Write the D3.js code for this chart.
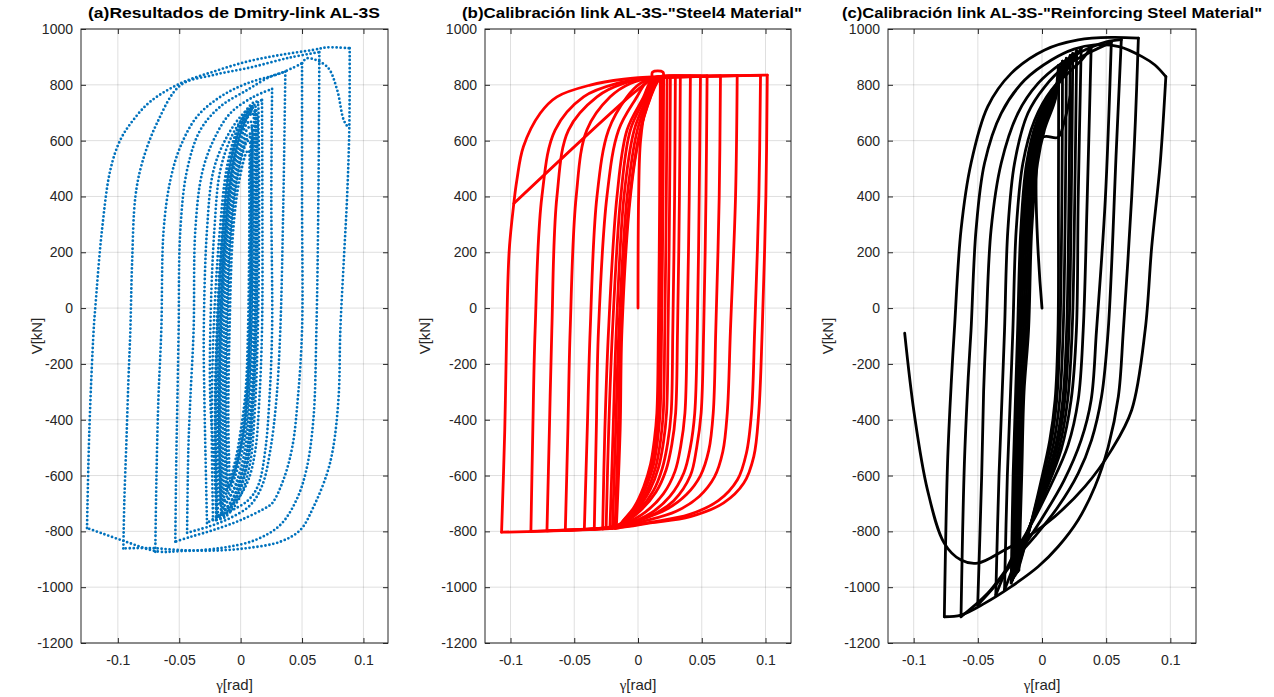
<!DOCTYPE html>
<html>
<head>
<meta charset="utf-8">
<script src="https://cdn.jsdelivr.net/npm/d3@7"></script>
<style>
  body { margin: 0; background: #fff; }
  svg { display: block; font-family: "Liberation Sans", Arial, Helvetica, sans-serif; }
</style>
</head>
<body>
<svg width="1274" height="697"></svg>
<script>
// tick values and titles
var xTicks = [-0.1, -0.05, 0, 0.05, 0.1];
var yTicks = [-1200, -1000, -800, -600, -400, -200, 0, 200, 400, 600, 800, 1000];
var titles = [
  "(a)Resultados de Dmitry-link AL-3S",
  "(b)Calibración link AL-3S-\"Steel4 Material\"",
  "(c)Calibración link AL-3S-\"Reinforcing Steel Material\""
];

// (a) test data, outer loops  [gamma rad, V kN]
var dmitryOuter = [
  [[-0.1251,-788],[-0.1232,-437],[-0.1197,-79],[-0.1183,5],[-0.1129,280],[-0.1061,495],[-0.098,602],[-0.0874,674],[-0.0735,740],[-0.0491,805],[-0.0222,847],[0.0052,883],[0.0323,907],[0.0592,925],[0.0704,934],[0.0888,931]],
  [[0.0888,931],[0.0885,645],[0.0867,399],[0.0839,162],[0.0812,-78],[0.0798,-317],[0.0755,-497],[0.0704,-592],[0.0594,-712],[0.0486,-795],[0.0324,-837],[0.0052,-860],[-0.0222,-869],[-0.0491,-867],[-0.0735,-860],[-0.0955,-861]],
  [[-0.0955,-861],[-0.0947,-689],[-0.093,-475],[-0.0914,-260],[-0.0898,-79],[-0.0884,161],[-0.0857,399],[-0.0803,519],[-0.0682,662],[-0.0491,798],[-0.0222,835],[0.0079,862],[0.0405,898],[0.0641,917]],
  [[0.0641,917],[0.0633,387],[0.0617,-78],[0.0592,-401],[0.0535,-580],[0.0454,-688],[0.0323,-777],[0.012,-831],[-0.0166,-860],[-0.0491,-871],[-0.0678,-872],[-0.0955,-834],[-0.1251,-788]],
  [[-0.0695,-873],[-0.0686,-616],[-0.067,-330],[-0.0646,-79],[-0.0627,280],[-0.0572,459],[-0.0491,578],[-0.0355,686],[-0.0165,757],[0.0052,805],[0.0323,841],[0.05,877]],
  [[0.05,877],[0.05,387],[0.05,-79],[0.0467,-317],[0.0421,-497],[0.0348,-616],[0.0258,-699],[0.0215,-713],[-0.0002,-760],[-0.022,-795],[-0.041,-820],[-0.0532,-837]],
  [[-0.0532,-837],[-0.0524,-544],[-0.0515,-329],[-0.0505,-79],[-0.0491,280],[-0.0436,495],[-0.0328,638],[-0.0165,722],[0.0052,781],[0.0242,829],[0.0364,847]],
  [[0.0364,847],[0.0348,387],[0.0323,-79],[0.0291,-329],[0.0242,-508],[0.0177,-634],[0.0079,-706],[-0.0084,-752],[-0.0247,-781],[-0.0436,-805]],
  [[-0.0436,-805],[-0.0426,-508],[-0.041,-329],[-0.0383,-79],[-0.0369,280],[-0.0314,484],[-0.022,602],[-0.0084,698],[0.0106,757],[0.0256,785]],
  [[0.0256,785],[0.025,387],[0.0256,-79],[0.0234,-329],[0.0201,-508],[0.0144,-634],[0.0063,-688],[-0.0068,-724],[-0.0206,-752],[-0.0274,-770]],
  [[-0.0274,-770],[-0.0287,-508],[-0.0295,-329],[-0.03,-79],[-0.0274,280],[-0.022,495],[-0.0111,614],[0.0024,698],[0.0174,746]],
  [[0.0174,746],[0.0177,387],[0.0174,-79],[0.0152,-329],[0.012,-508],[0.0063,-616],[-0.0019,-681],[-0.0125,-724],[-0.0192,-747]],
  [[-0.0192,-747],[-0.0222,-508],[-0.0247,-329],[-0.0247,-79],[-0.0214,280],[-0.0165,495],[-0.0068,620],[0.0038,692],[0.0106,721]],
  [[0.05,877],[0.054,895],[0.0704,865],[0.0785,783],[0.0839,674],[0.0879,645]]
];

// (a) test data, small cycles in the middle
var dmitryCore = [
  [[-0.016,-735],[-0.0175,-400],[-0.0165,-79],[-0.013,250],[-0.008,480],[-0.001,620],[0.006,690],[0.0095,700],[0.011,600],[0.0115,350],[0.011,-79],[0.0085,-350],[0.004,-540],[-0.003,-650],[-0.011,-715],[-0.016,-735]],
  [[-0.0145,-715],[-0.016,-400],[-0.015,-79],[-0.0115,250],[-0.0065,470],[0,600],[0.005,660],[0.008,670],[0.0095,560],[0.0105,300],[0.0095,-79],[0.007,-350],[0.003,-520],[-0.004,-630],[-0.011,-695],[-0.0145,-715]],
  [[-0.0135,-690],[-0.0145,-400],[-0.0135,-79],[-0.0105,250],[-0.0055,460],[0.001,590],[0.006,645],[0.0085,650],[0.0095,520],[0.0095,250],[0.0085,-79],[0.006,-340],[0.002,-500],[-0.005,-610],[-0.0105,-670],[-0.0135,-690]],
  [[-0.012,-665],[-0.013,-400],[-0.012,-79],[-0.009,250],[-0.0045,450],[0.001,570],[0.0055,620],[0.0075,625],[0.0085,500],[0.0085,250],[0.0075,-79],[0.005,-330],[0.001,-480],[-0.005,-590],[-0.0095,-645],[-0.012,-665]],
  [[-0.0105,-640],[-0.0115,-400],[-0.0105,-79],[-0.008,250],[-0.0035,440],[0.0015,550],[0.005,595],[0.007,600],[0.008,480],[0.008,250],[0.007,-79],[0.0045,-320],[0.0005,-460],[-0.0045,-570],[-0.0085,-620],[-0.0105,-640]],
  [[-0.02,-760],[-0.021,-400],[-0.0195,-79],[-0.0155,250],[-0.01,500],[-0.002,640],[0.006,710],[0.0115,725],[0.013,620],[0.0135,350],[0.0125,-79],[0.01,-360],[0.006,-550],[-0.002,-670],[-0.012,-740],[-0.02,-760]],
  [[-0.0185,-745],[-0.0195,-400],[-0.018,-79],[-0.0145,250],[-0.009,490],[-0.0015,630],[0.006,700],[0.0105,712],[0.0125,610],[0.0125,350],[0.012,-79],[0.0095,-355],[0.0055,-545],[-0.0025,-660],[-0.0115,-730],[-0.0185,-745]],
  [[-0.009,-610],[-0.01,-400],[-0.009,-79],[-0.0065,250],[-0.0025,420],[0.002,520],[0.005,560],[0.0065,565],[0.007,450],[0.007,250],[0.006,-79],[0.004,-300],[0,-440],[-0.004,-540],[-0.0075,-595],[-0.009,-610]],
  [[-0.0225,-760],[-0.0235,-400],[-0.022,-79],[-0.0175,250],[-0.011,510],[-0.002,650],[0.0065,720],[0.013,740],[0.0145,640],[0.015,360],[0.014,-79],[0.0115,-370],[0.0075,-560],[-0.001,-680],[-0.013,-750],[-0.0225,-760]],
  [[-0.017,-700],[-0.0185,-400],[-0.0175,-79],[-0.0125,300],[-0.006,520],[0.002,650],[0.009,705],[0.0125,700],[0.0135,560],[0.0135,300],[0.0125,-79],[0.0095,-330],[0.005,-520],[-0.003,-630],[-0.012,-690],[-0.017,-700]],
  [[-0.0155,-725],[-0.017,-400],[-0.016,-79],[-0.012,260],[-0.0065,490],[0.0005,630],[0.007,690],[0.0105,695],[0.012,590],[0.0125,330],[0.0115,-79],[0.009,-345],[0.0045,-530],[-0.0025,-645],[-0.0105,-710],[-0.0155,-725]],
  [[-0.0115,-650],[-0.0125,-400],[-0.0115,-79],[-0.0085,250],[-0.004,445],[0.0015,560],[0.006,610],[0.0085,612],[0.009,490],[0.009,250],[0.008,-79],[0.0055,-325],[0.0015,-470],[-0.0045,-580],[-0.009,-635],[-0.0115,-650]],
  [[-0.0195,-750],[-0.0205,-400],[-0.019,-79],[-0.015,250],[-0.0095,495],[-0.0015,635],[0.0065,705],[0.011,718],[0.0128,615],[0.013,350],[0.0122,-79],[0.0098,-358],[0.0058,-548],[-0.0022,-665],[-0.0118,-735],[-0.0195,-750]]
];

// (b) Steel4 model: loading branches
var steel4Rising = [
  [[-0.107,-803],[-0.1045,-437],[-0.103,-80],[-0.101,208],[-0.0974,375],[-0.095,459],[-0.0899,578],[-0.0767,698],[-0.0636,757],[-0.0375,799],[-0.0113,820],[0.0149,829],[0.06,832],[0.1014,835]],
  [[-0.084,-800],[-0.0825,-437],[-0.0807,-80],[-0.0754,399],[-0.065,638],[-0.0427,757],[-0.0165,805],[0.0097,823],[0.05,830],[0.0961,834]],
  [[-0.0714,-798],[-0.0695,-437],[-0.0676,-80],[-0.0636,399],[-0.0545,638],[-0.0322,757],[-0.0113,805],[0.0097,823],[0.04,829],[0.0778,833]],
  [[-0.057,-796],[-0.055,-437],[-0.0532,-80],[-0.0485,399],[-0.0401,638],[-0.0218,757],[-0.006,805],[0.0097,823],[0.0647,832]],
  [[-0.0421,-794],[-0.0398,-437],[-0.0375,-80],[-0.0322,399],[-0.0231,638],[-0.0086,757],[0.0018,805],[0.012,825],[0.0542,832]],
  [[-0.0343,-793],[-0.0327,-437],[-0.031,-80],[-0.0244,399],[-0.0152,638],[-0.0008,757],[0.0057,805],[0.013,826],[0.049,831]],
  [[-0.0277,-791],[-0.026,-437],[-0.0231,-80],[-0.0165,399],[-0.0086,638],[0.0044,757],[0.009,805],[0.014,826],[0.0411,831]],
  [[-0.025,-790],[-0.023,-437],[-0.02,-80],[-0.0135,399],[-0.006,638],[0.006,757],[0.0105,805],[0.015,826],[0.0332,830]],
  [[-0.022,-790],[-0.0195,-437],[-0.017,-80],[-0.011,399],[-0.003,638],[0.0075,757],[0.012,805],[0.016,826],[0.0293,830]],
  [[-0.02,-789],[-0.0175,-437],[-0.015,-80],[-0.0085,399],[-0.0005,638],[0.0085,757],[0.013,805],[0.017,826],[0.0254,830]],
  [[-0.018,-789],[-0.0155,-437],[-0.0135,-80],[-0.0065,399],[0.0018,638],[0.0097,757],[0.014,805],[0.018,826],[0.0228,829]],
  [[-0.017,-788],[-0.014,-437],[-0.0126,-80],[-0.006,399],[0.002,638],[0.01,757],[0.0145,805],[0.018,826],[0.0201,829]]
];

// (b) Steel4 model: unloading branches
var steel4Falling = [
  [[0.1014,835],[0.1003,400],[0.0974,-80],[0.0947,-376],[0.0908,-532],[0.083,-627],[0.0672,-698],[0.0411,-747],[0.0097,-770],[-0.0165,-788],[-0.06,-797],[-0.107,-803]],
  [[0.0961,834],[0.0948,400],[0.0915,-80],[0.089,-376],[0.085,-520],[0.078,-615],[0.063,-690],[0.04,-740],[0.01,-767],[-0.0165,-786],[-0.05,-794],[-0.084,-800]],
  [[0.0778,833],[0.0765,400],[0.0725,-80],[0.07,-376],[0.0665,-515],[0.06,-605],[0.048,-675],[0.03,-728],[0.006,-762],[-0.017,-785],[-0.04,-792],[-0.0714,-798]],
  [[0.0647,832],[0.0637,400],[0.061,-80],[0.059,-376],[0.0555,-510],[0.049,-600],[0.038,-668],[0.022,-722],[0.002,-758],[-0.017,-784],[-0.057,-796]],
  [[0.0542,832],[0.0533,400],[0.0515,-80],[0.0495,-376],[0.046,-500],[0.0411,-600],[0.028,-690],[0.0097,-745],[-0.0113,-777],[-0.0421,-794]],
  [[0.049,831],[0.048,400],[0.0465,-80],[0.0445,-376],[0.041,-500],[0.036,-590],[0.025,-675],[0.01,-735],[-0.01,-775],[-0.0343,-793]],
  [[0.0411,831],[0.0402,400],[0.0385,-80],[0.0368,-376],[0.0335,-495],[0.029,-585],[0.02,-665],[0.006,-730],[-0.011,-773],[-0.0277,-791]],
  [[0.0332,830],[0.0325,400],[0.031,-80],[0.0295,-376],[0.0265,-490],[0.022,-580],[0.014,-660],[0.002,-725],[-0.012,-772],[-0.025,-790]],
  [[0.0293,830],[0.0287,400],[0.0273,-80],[0.026,-376],[0.0232,-485],[0.019,-575],[0.012,-655],[0.001,-722],[-0.012,-770],[-0.022,-790]],
  [[0.0254,830],[0.0248,400],[0.0236,-80],[0.0224,-376],[0.02,-480],[0.0162,-570],[0.0095,-650],[-0.0005,-720],[-0.012,-768],[-0.02,-789]],
  [[0.0228,829],[0.0222,400],[0.021,-80],[0.0198,-376],[0.0176,-478],[0.014,-568],[0.0078,-648],[-0.001,-718],[-0.012,-767],[-0.018,-789]],
  [[0.0201,829],[0.0196,400],[0.0185,-80],[0.0173,-376],[0.0153,-476],[0.012,-565],[0.006,-645],[-0.002,-716],[-0.012,-766],[-0.017,-788]],
  [[0.0188,829],[0.0183,400],[0.0172,-80],[0.016,-376],[0.014,-475],[0.011,-562],[0.0055,-643],[-0.0025,-715],[-0.012,-765],[-0.016,-788]],
  [[0.0175,828],[0.017,400],[0.016,-80],[0.0148,-376],[0.0128,-473],[0.0098,-560],[0.0045,-640],[-0.003,-713],[-0.012,-764],[-0.015,-787]]
];

// (b) first loading, small kink at the top, elastic reload line
var steel4Other = [
  [[0,0],[0.0005,400],[0.002,600],[0.006,720],[0.012,790],[0.016,822],[0.0175,828]],
  [[0.011,830],[0.0115,846],[0.0195,846],[0.02,830]],
  [[-0.0974,375],[-0.005,765],[0.012,826]]
];

// (c) Reinforcing steel model: loading branches
var reinfRising = [
  [[-0.0761,-1106],[-0.0736,-556],[-0.0705,-250],[-0.0683,-80],[-0.0631,280],[-0.0553,519],[-0.0423,722],[-0.024,841],[0.0021,925],[0.0282,961],[0.0542,970],[0.0751,967]],
  [[-0.0631,-1106],[-0.0605,-560],[-0.0575,-250],[-0.0553,-80],[-0.0514,280],[-0.0448,519],[-0.0318,698],[-0.0135,817],[0.0073,889],[0.025,928],[0.041,943],[0.06,937],[0.078,901],[0.088,871],[0.0965,829]],
  [[-0.0501,-1064],[-0.047,-600],[-0.0455,-300],[-0.0436,-80],[-0.0397,280],[-0.0318,519],[-0.0188,698],[-0.0031,805],[0.0151,877],[0.0334,925],[0.0501,954],[0.0618,962]],
  [[-0.036,-1028],[-0.0335,-600],[-0.031,-300],[-0.0292,-80],[-0.0266,280],[-0.0214,519],[-0.011,698],[0.0021,793],[0.0178,865],[0.0386,919],[0.054,952]],
  [[-0.0292,-1010],[-0.027,-600],[-0.0245,-300],[-0.0227,-80],[-0.0201,280],[-0.0149,519],[-0.0057,674],[0.0073,781],[0.0229,853],[0.032,895],[0.0383,935]],
  [[-0.024,-985],[-0.0225,-600],[-0.0205,-300],[-0.019,-80],[-0.0165,280],[-0.012,519],[-0.004,670],[0.008,780],[0.02,860],[0.0305,930]],
  [[-0.023,-975],[-0.021,-600],[-0.0192,-300],[-0.0175,-80],[-0.015,280],[-0.0105,519],[-0.003,665],[0.0085,775],[0.019,850],[0.027,922]],
  [[-0.022,-965],[-0.0198,-600],[-0.018,-300],[-0.016,-80],[-0.0135,280],[-0.009,519],[-0.002,660],[0.009,770],[0.0175,845],[0.024,912]],
  [[-0.021,-958],[-0.0188,-600],[-0.017,-300],[-0.0145,-80],[-0.012,280],[-0.0075,519],[-0.001,655],[0.0095,765],[0.016,840],[0.022,905]],
  [[-0.02,-950],[-0.0178,-600],[-0.016,-300],[-0.013,-80],[-0.0105,280],[-0.006,519],[0,650],[0.01,760],[0.015,835],[0.019,895]],
  [[-0.019,-945],[-0.0168,-600],[-0.015,-300],[-0.0115,-80],[-0.009,280],[-0.0045,519],[0.001,645],[0.0105,755],[0.0135,830],[0.016,885]],
  [[-0.018,-940],[-0.0158,-600],[-0.014,-300],[-0.0105,-80],[-0.008,280],[-0.0035,519],[0.002,640],[0.0105,750],[0.012,825],[0.013,870]]
];

// (c) Reinforcing steel model: unloading branches
var reinfFalling = [
  [[0.0965,829],[0.0921,519],[0.0855,220],[0.0804,-78],[0.0699,-365],[0.0542,-508],[0.0334,-640],[0.0099,-747],[-0.011,-819],[-0.0292,-867],[-0.0501,-914],[-0.0631,-903],[-0.0761,-843],[-0.0892,-652],[-0.0996,-377],[-0.107,-90]],
  [[0.0751,967],[0.0728,674],[0.0699,399],[0.0634,-78],[0.0595,-317],[0.0516,-497],[0.0412,-640],[0.0282,-759],[0.0125,-855],[-0.0031,-927],[-0.024,-998],[-0.0448,-1058],[-0.0631,-1100],[-0.0761,-1106]],
  [[0.0618,962],[0.0579,566],[0.0516,-78],[0.0464,-317],[0.0386,-473],[0.0282,-592],[0.0125,-712],[-0.0057,-819],[-0.024,-914],[-0.0423,-1022],[-0.0631,-1106]],
  [[0.054,952],[0.0493,387],[0.0425,-78],[0.0383,-329],[0.0305,-473],[0.0172,-617],[-0.0008,-759],[-0.0188,-884],[-0.036,-992],[-0.0501,-1064]],
  [[0.0383,935],[0.0352,387],[0.0321,-80],[0.0282,-329],[0.0203,-491],[0.007,-634],[-0.0086,-777],[-0.0243,-903],[-0.036,-1028]],
  [[0.0305,930],[0.0282,387],[0.0268,-80],[0.0227,-329],[0.0149,-508],[0.0031,-652],[-0.0125,-813],[-0.0292,-1010]],
  [[0.027,922],[0.0255,387],[0.0235,-80],[0.02,-329],[0.0135,-500],[0.003,-650],[-0.011,-800],[-0.024,-985]],
  [[0.024,912],[0.0228,387],[0.021,-80],[0.0178,-329],[0.012,-495],[0.002,-645],[-0.0105,-795],[-0.023,-975]],
  [[0.022,905],[0.021,387],[0.0192,-80],[0.0162,-329],[0.0108,-490],[0.0015,-640],[-0.01,-790],[-0.022,-965]],
  [[0.019,895],[0.0182,387],[0.0165,-80],[0.0138,-329],[0.009,-485],[0.0005,-635],[-0.0095,-785],[-0.021,-958]],
  [[0.016,885],[0.0155,387],[0.014,-80],[0.0115,-329],[0.0072,-480],[-0.0005,-630],[-0.009,-780],[-0.02,-950]],
  [[0.013,870],[0.0128,387],[0.0125,-80],[0.0102,-329],[0.006,-475],[-0.001,-625],[-0.0088,-775],[-0.019,-945]]
];

// (c) first loading
var reinfOther = [
  [[0,0],[0,610],[0.0125,612],[0.017,662],[0.022,760]]
];

var svg = d3.select("svg"),
    width = +svg.attr("width"),
    height = +svg.attr("height");

svg.append("rect").attr("width", width).attr("height", height).attr("fill", "#fff");

var axTop = 29, axBottom = 643;
var ink = "#262626";

var panels = [
  { id: "a", left: 81, right: 388, xDomain: [-0.13, 0.12], titleX: 234, titleW: 292, ylabX: 37 },
  { id: "b", left: 485, right: 791, xDomain: [-0.12, 0.12], titleX: 632, titleW: 340, ylabX: 425 },
  { id: "c", left: 888, right: 1196, xDomain: [-0.12, 0.12], titleX: 1052, titleW: 420, ylabX: 828 }
];

var fmt = function (d) { return String(d); };

function drawPanel(p, i, layers) {
  var x = d3.scaleLinear().domain(p.xDomain).range([p.left, p.right]);
  var y = d3.scaleLinear().domain([-1200, 1000]).range([axBottom, axTop]);
  var g = svg.append("g").attr("class", "panel-" + p.id);

  // grid
  g.append("g").selectAll("line").data(xTicks).join("line")
    .attr("x1", d => x(d)).attr("x2", d => x(d))
    .attr("y1", axTop).attr("y2", axBottom)
    .attr("stroke", ink).attr("stroke-opacity", 0.15);
  g.append("g").selectAll("line").data(yTicks).join("line")
    .attr("x1", p.left).attr("x2", p.right)
    .attr("y1", d => y(d)).attr("y2", d => y(d))
    .attr("stroke", ink).attr("stroke-opacity", 0.15);

  // data
  g.append("clipPath").attr("id", "clip-" + p.id)
    .append("rect").attr("x", p.left).attr("y", axTop)
    .attr("width", p.right - p.left).attr("height", axBottom - axTop);

  var line = d3.line()
    .x(d => x(d[0]))
    .y(d => y(d[1]))
    .curve(d3.curveCatmullRom.alpha(0.5));

  var plot = g.append("g").attr("clip-path", "url(#clip-" + p.id + ")");
  layers.forEach(function (L) {
    var paths = plot.append("g").selectAll("path").data(L.data).join("path")
      .attr("d", line)
      .attr("fill", "none")
      .attr("stroke", L.color)
      .attr("stroke-width", L.width)
      .attr("stroke-linecap", "round")
      .attr("stroke-linejoin", "round");
    if (L.dots) paths.attr("stroke-dasharray", "0 4");
  });

  // axes, ticks pointing inward on all four sides
  var xb = g.append("g").attr("transform", "translate(0," + axBottom + ")")
    .call(d3.axisBottom(x).tickValues(xTicks).tickSize(-5).tickSizeOuter(0).tickFormat(fmt));
  xb.selectAll("text").attr("y", 22).attr("dy", null);
  g.append("g").attr("transform", "translate(0," + axTop + ")")
    .call(d3.axisTop(x).tickValues(xTicks).tickSize(-5).tickSizeOuter(0).tickFormat(""));
  var yl = g.append("g").attr("transform", "translate(" + p.left + ",0)")
    .call(d3.axisLeft(y).tickValues(yTicks).tickSize(-5).tickSizeOuter(0).tickFormat(fmt));
  yl.selectAll("text").attr("x", -8);
  g.append("g").attr("transform", "translate(" + p.right + ",0)")
    .call(d3.axisRight(y).tickValues(yTicks).tickSize(-5).tickSizeOuter(0).tickFormat(""));

  g.selectAll(".domain").remove();
  g.selectAll(".tick line").attr("stroke", ink);
  g.selectAll(".tick text").attr("fill", ink)
    .attr("font-size", 14).attr("font-family", "Liberation Sans, Arial, sans-serif");

  g.append("rect")
    .attr("x", p.left).attr("y", axTop)
    .attr("width", p.right - p.left).attr("height", axBottom - axTop)
    .attr("fill", "none").attr("stroke", ink).attr("stroke-width", 1);

  // labels
  g.append("text")
    .attr("x", p.titleX).attr("y", 18)
    .attr("text-anchor", "middle")
    .attr("font-weight", "bold").attr("font-size", 15.5)
    .attr("textLength", p.titleW).attr("lengthAdjust", "spacingAndGlyphs")
    .attr("fill", "#000")
    .text(titles[i]);

  var xlab = g.append("text")
    .attr("x", (p.left + p.right) / 2).attr("y", 690)
    .attr("text-anchor", "middle").attr("font-size", 15).attr("fill", ink);
  xlab.append("tspan").attr("font-family", "Liberation Serif, Times New Roman, serif").text("γ");
  xlab.append("tspan").text("[rad]");

  g.append("text")
    .attr("transform", "translate(" + (p.ylabX + 5) + "," + ((axTop + axBottom) / 2) + ") rotate(-90)")
    .attr("text-anchor", "middle").attr("font-size", 15).attr("fill", ink)
    .text("V[kN]");
}

drawPanel(panels[0], 0, [
  { data: dmitryOuter, color: "#0072BD", width: 2.8, dots: true },
  { data: dmitryCore, color: "#0072BD", width: 2.8, dots: true }
]);
drawPanel(panels[1], 1, [
  { data: steel4Rising, color: "#FF0000", width: 2.8 },
  { data: steel4Falling, color: "#FF0000", width: 2.8 },
  { data: steel4Other, color: "#FF0000", width: 2.8 }
]);
drawPanel(panels[2], 2, [
  { data: reinfRising, color: "#000000", width: 2.8 },
  { data: reinfFalling, color: "#000000", width: 2.8 },
  { data: reinfOther, color: "#000000", width: 2.8 }
]);
</script>
</body>
</html>
